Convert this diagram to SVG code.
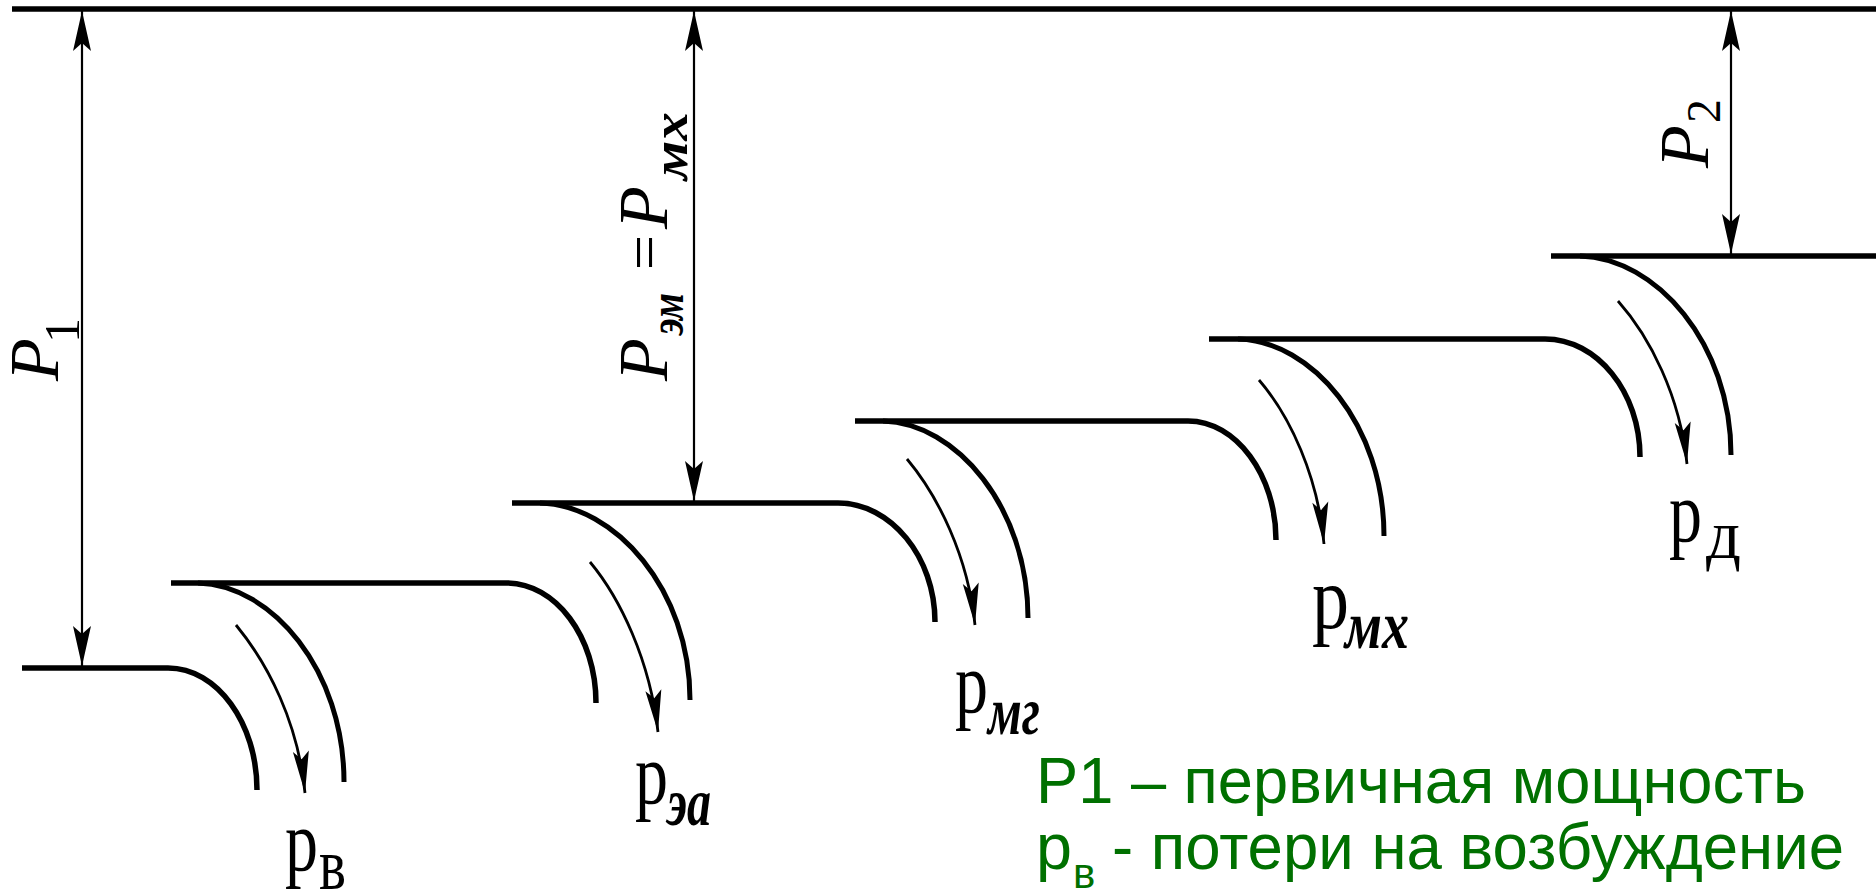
<svg xmlns="http://www.w3.org/2000/svg" width="1876" height="896" viewBox="0 0 1876 896">
<style>
.ln{stroke:#000;stroke-width:5.5;fill:none}
.arc{stroke:#000;stroke-width:5;fill:none}
.dim{stroke:#000;stroke-width:2.2;fill:none}
.flow{stroke:#000;stroke-width:2.8;fill:none}
.it{font-family:"Liberation Serif","DejaVu Serif",serif;font-style:italic;font-size:70px;fill:#000}
.rm{font-family:"Liberation Serif","DejaVu Serif",serif;fill:#000}
.bi{font-family:"Liberation Serif","DejaVu Serif",serif;font-style:italic;font-weight:bold;fill:#000}
.leg{font-family:"Liberation Sans",Arial,sans-serif;fill:#007000}
</style>
<defs>
<marker id="ah" markerUnits="userSpaceOnUse" markerWidth="46" markerHeight="22" viewBox="-42 -11 44 22" refX="0" refY="0" orient="auto-start-reverse">
<path d="M0,0 L-40,-9 L-32,0 L-40,9 Z" fill="#000"/>
</marker>
<marker id="fh" markerUnits="userSpaceOnUse" markerWidth="46" markerHeight="20" viewBox="-44 -10 46 20" refX="0" refY="0" orient="auto">
<path d="M0,0 L-42,-8 L-34,0 L-42,8 Z" fill="#000"/>
</marker>
</defs>

<g id="levels">
<line class="ln" x1="12" y1="9" x2="1876" y2="9"/>
<path class="ln" d="M22 668 H168 C217 668 257 723 257 790"/>
<path class="ln" d="M171 583 H506 C556 583 596 637 596 703"/>
<path class="ln" d="M512 503 H838 C891 503 935 557 935 622"/>
<path class="ln" d="M855 421 H1188 C1236 421 1276 475 1276 540"/>
<path class="ln" d="M1209 339 H1545 C1597 339 1640 392 1640 457"/>
<path class="ln" d="M1551 256 H1876"/>
</g>

<g id="outer-arcs">
<path class="arc" d="M198 583 C272 585 344 670 344 782"/>
<path class="arc" d="M540 503 C615 505 690 589 690 700"/>
<path class="arc" d="M883 421 C956 423 1028 507 1028 618"/>
<path class="arc" d="M1238 339 C1312 341 1384 425 1384 536"/>
<path class="arc" d="M1580 256 C1656 258 1731 343 1731 455"/>
</g>

<g id="connectors">
<line class="dim" x1="82" y1="11" x2="82" y2="666" marker-start="url(#ah)" marker-end="url(#ah)"/>
<line class="dim" x1="694" y1="11" x2="694" y2="501" marker-start="url(#ah)" marker-end="url(#ah)"/>
<line class="dim" x1="1731" y1="11" x2="1731" y2="254" marker-start="url(#ah)" marker-end="url(#ah)"/>
<path class="flow" d="M236 625 C268 664 298 722 305 793" marker-end="url(#fh)"/>
<path class="flow" d="M590 562 C620 598 650 660 658 732" marker-end="url(#fh)"/>
<path class="flow" d="M907 459 C938 496 968 556 975 625" marker-end="url(#fh)"/>
<path class="flow" d="M1259 380 C1290 416 1318 476 1324 544" marker-end="url(#fh)"/>
<path class="flow" d="M1618 301 C1650 337 1680 396 1687 464" marker-end="url(#fh)"/>
</g>

<g id="label-P1" transform="translate(58,381) rotate(-90)">
<text class="it" x="0" y="0">P</text>
<text class="rm" x="38" y="21" font-size="50">1</text>
</g>
<g id="label-Pem" transform="translate(667,381) rotate(-90)">
<text class="it" x="0" y="0">P</text>
<text class="bi" x="46" y="16" font-size="48" textLength="42" lengthAdjust="spacingAndGlyphs">эм</text>
<text class="rm" x="111" y="-2" font-size="62">=</text>
<text class="it" x="152" y="0">P</text>
<text class="bi" x="201" y="20" font-size="50" textLength="68" lengthAdjust="spacingAndGlyphs">мх</text>
</g>
<g id="label-P2" transform="translate(1708,168) rotate(-90)">
<text class="it" x="0" y="0">P</text>
<text class="rm" x="45" y="12" font-size="48">2</text>
</g>

<g id="label-pv">
<text class="rm" x="285" y="870" font-size="86" textLength="33" lengthAdjust="spacingAndGlyphs">p</text>
<text class="rm" x="319" y="889" font-size="74" textLength="27" lengthAdjust="spacingAndGlyphs">в</text>
</g>
<g id="label-pea">
<text class="rm" x="635" y="803" font-size="86" textLength="33" lengthAdjust="spacingAndGlyphs">p</text>
<text class="bi" x="667" y="825" font-size="68" textLength="44" lengthAdjust="spacingAndGlyphs">эа</text>
</g>
<g id="label-pmg">
<text class="rm" x="955" y="712" font-size="86" textLength="33" lengthAdjust="spacingAndGlyphs">p</text>
<text class="bi" x="988" y="734" font-size="68" textLength="52" lengthAdjust="spacingAndGlyphs">мг</text>
</g>
<g id="label-pmh">
<text class="rm" x="1312" y="628" font-size="88" textLength="37" lengthAdjust="spacingAndGlyphs">p</text>
<text class="bi" x="1345" y="648" font-size="68" textLength="64" lengthAdjust="spacingAndGlyphs">мх</text>
</g>
<g id="label-pd">
<text class="rm" x="1669" y="541" font-size="86" textLength="33" lengthAdjust="spacingAndGlyphs">p</text>
<text class="rm" x="1706" y="558" font-size="70" textLength="35" lengthAdjust="spacingAndGlyphs">д</text>
</g>

<g id="legend">
<text class="leg" x="1036" y="803" font-size="64" textLength="770" lengthAdjust="spacingAndGlyphs">P1 – первичная мощность</text>
<text class="leg" x="1036" y="869" font-size="64" textLength="36" lengthAdjust="spacingAndGlyphs">p</text>
<text class="leg" x="1073" y="888" font-size="42">в</text>
<text class="leg" x="1112" y="869" font-size="64" textLength="732" lengthAdjust="spacingAndGlyphs">- потери на возбуждение</text>
</g>
</svg>
